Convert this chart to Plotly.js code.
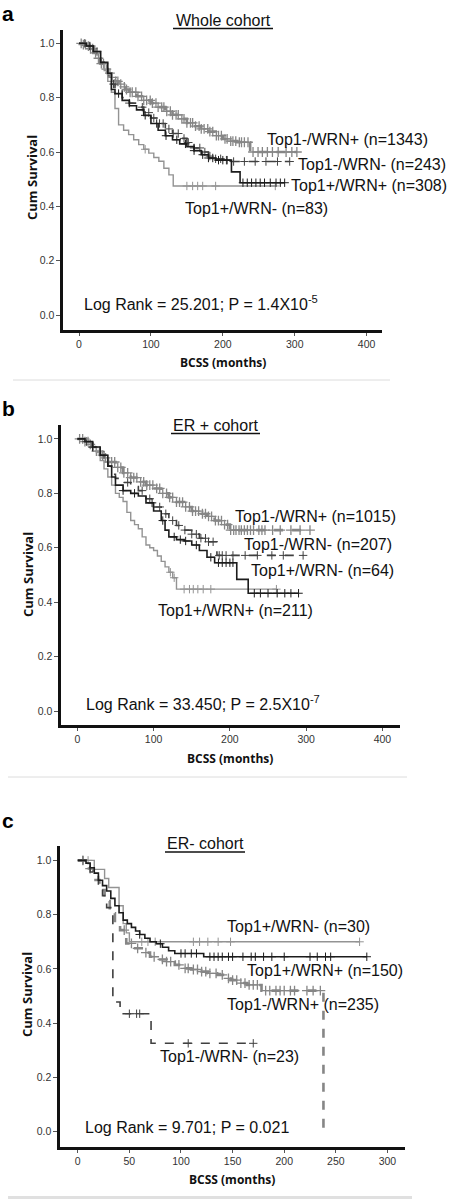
<!DOCTYPE html>
<html>
<head>
<meta charset="utf-8">
<script src="https://cdn.plot.ly/plotly-3.0.1.min.js"></script>
<style>html,body{margin:0;padding:0;background:#fff;}#chart{width:453px;height:1200px;}</style>
</head>
<body>
<div id="chart"></div>
<script>
// ---------- tick labels ----------
const survTickVals = [0, 0.2, 0.4, 0.6, 0.8, 1.0];
const survTickText = ['0.0', '0.2', '0.4', '0.6', '0.8', '1.0'];
const monthTicksAB = [0, 100, 200, 300, 400];
const monthTicksC = [0, 50, 100, 150, 200, 250, 300];

const panelTitles = ['Whole cohort', 'ER + cohort', 'ER- cohort'];
const panelLetters = ['a', 'b', 'c'];
const xTitle = 'BCSS (months)';
const yTitle = 'Cum Survival';
const logRankTexts = [
  'Log Rank = 25.201; P = 1.4X10<sup>-5</sup>',
  'Log Rank = 33.450; P = 2.5X10<sup>-7</sup>',
  'Log Rank = 9.701; P = 0.021'
];

// ---------- Panel a: whole cohort ----------
const aNegPosT = [0,5,10,15,20,25,30,35,40,45,50,55,60,65,70,80,90,100,110,120,130,140,150,160,170,180,190,200,210,220,238,303];
const aNegPosS = [1.0,0.995,0.99,0.98,0.965,0.945,0.925,0.905,0.89,0.875,0.86,0.85,0.84,0.83,0.82,0.805,0.79,0.78,0.765,0.75,0.737,0.722,0.707,0.695,0.685,0.675,0.66,0.648,0.64,0.636,0.60,0.60];
const aNegPosC = [3,6,9,13,16,19,23,27,31,34,38,43,46,51,54,58,63,66,71,74,79,82,87,90,94,99,102,107,110,115,118,122,127,130,135,138,143,146,150,155,158,162,167,170,174,179,182,186,191,194,198,203,206,211,214,218,223,226,230,235,242,249,255,262,269,277,288,296,303];
const aNegNegT = [0,10,20,30,40,45,50,60,70,80,90,100,110,120,130,140,150,160,170,180,190,200,212,293];
const aNegNegS = [1.0,0.99,0.97,0.93,0.88,0.85,0.83,0.80,0.78,0.765,0.745,0.725,0.705,0.685,0.668,0.65,0.635,0.615,0.60,0.585,0.575,0.57,0.565,0.565];
const aNegNegC = [8,25,48,70,88,97,104,112,117,125,131,138,146,152,160,168,175,182,190,197,205,215,230,245,260,276,293];
const aPosPosT = [0,10,20,30,40,45,50,60,70,80,90,100,110,120,130,140,150,160,170,180,190,212,224,286];
const aPosPosS = [1.0,0.99,0.97,0.93,0.89,0.83,0.815,0.79,0.77,0.755,0.735,0.705,0.68,0.66,0.645,0.63,0.62,0.605,0.59,0.578,0.57,0.527,0.487,0.487];
const aPosPosC = [15,55,92,108,121,136,148,160,172,180,186,194,200,206,228,234,240,246,252,258,266,274,280,286];
const aPosNegT = [0,15,22,30,35,40,45,50,55,62,69,76,83,90,97,104,111,118,125,131,273];
const aPosNegS = [1.0,0.99,0.97,0.93,0.9,0.86,0.82,0.76,0.70,0.68,0.664,0.645,0.627,0.61,0.596,0.58,0.566,0.54,0.516,0.475,0.475];
const aPosNegC = [92,150,158,165,172,190,273];
const aLabels = ['Top1-/WRN+ (n=1343)', 'Top1-/WRN- (n=243)', 'Top1+/WRN+ (n=308)', 'Top1+/WRN- (n=83)'];

// ---------- Panel b: ER+ cohort ----------
const bNegPosT = [0,10,15,20,25,30,35,40,50,60,70,80,90,100,110,120,130,140,150,160,170,180,190,200,305];
const bNegPosS = [1.0,0.99,0.98,0.97,0.955,0.94,0.93,0.915,0.895,0.875,0.858,0.842,0.83,0.818,0.80,0.785,0.768,0.75,0.735,0.725,0.715,0.70,0.685,0.665,0.665];
const bNegPosC = [3,7,10,14,17,21,25,29,33,37,41,45,49,53,57,61,66,70,74,78,83,87,91,95,99,104,108,112,117,121,125,130,134,138,142,147,151,155,159,164,168,172,176,181,185,189,193,197,201,205,208,212,215,219,223,227,231,238,242,246,256,266,280,292,305];
const bNegNegT = [0,10,20,30,40,45,50,60,70,80,90,100,110,120,130,140,150,160,170,183,296];
const bNegNegS = [1.0,0.99,0.97,0.94,0.90,0.87,0.855,0.84,0.825,0.81,0.78,0.75,0.725,0.70,0.682,0.665,0.65,0.635,0.622,0.572,0.572];
const bNegNegC = [12,35,66,85,95,108,116,125,133,141,150,156,162,168,172,178,186,190,195,204,220,236,255,270,296];
const bPosPosT = [0,10,20,30,40,45,50,60,70,80,90,100,110,115,120,130,140,150,160,170,180,209,224,290];
const bPosPosS = [1.0,0.99,0.97,0.94,0.90,0.86,0.83,0.81,0.80,0.79,0.765,0.735,0.70,0.665,0.64,0.63,0.625,0.61,0.59,0.565,0.545,0.484,0.433,0.433];
const bPosPosC = [20,60,75,98,112,127,135,142,156,175,185,190,195,200,204,232,240,250,262,272,280,290];
const bPosNegT = [0,15,20,25,30,35,40,45,50,55,60,65,70,75,80,85,90,95,100,105,110,115,120,125,130,261];
const bPosNegS = [1.0,0.99,0.97,0.95,0.92,0.89,0.86,0.83,0.80,0.785,0.77,0.73,0.70,0.685,0.67,0.64,0.61,0.60,0.59,0.57,0.55,0.53,0.51,0.49,0.448,0.448];
const bPosNegC = [122,127,140,147,152,158,165,175,261];
const bLabels = ['Top1-/WRN+ (n=1015)', 'Top1-/WRN- (n=207)', 'Top1+/WRN- (n=64)', 'Top1+/WRN+ (n=211)'];

// ---------- Panel c: ER- cohort ----------
const cPosNegT = [0,16,26,30,40,44,47,50,273];
const cPosNegS = [1,0.967,0.933,0.9,0.833,0.767,0.733,0.70,0.70];
const cPosNegC = [5,10,62,68,75,112,118,126,136,148,273];
const cPosPosT = [0,8,12,16,20,24,28,32,36,40,44,48,52,56,60,65,70,76,82,88,94,122,280];
const cPosPosS = [1,0.99,0.973,0.953,0.927,0.907,0.887,0.86,0.833,0.807,0.78,0.767,0.753,0.74,0.727,0.713,0.70,0.693,0.68,0.667,0.657,0.645,0.645];
const cPosPosC = [60,80,100,104,110,115,128,132,136,140,146,150,160,168,172,180,188,200,225,232,240,245,280];
const cNegPosT = [0,8,15,21,26,31,36,41,47,54,62,70,78,86,94,102,110,118,126,135,142,148,155,164,178,238];
const cNegPosS = [1,0.97,0.928,0.891,0.85,0.805,0.77,0.743,0.694,0.676,0.66,0.645,0.635,0.627,0.615,0.602,0.598,0.59,0.584,0.578,0.565,0.559,0.548,0.541,0.52,0];
const cNegPosC = [5,12,45,52,58,66,74,82,86,90,98,104,107,112,116,120,124,128,134,140,146,150,154,158,162,166,170,174,182,186,192,196,200,206,210,222,228,235];
const cNegNegT = [0,12,20,24,28,34,41,71,170];
const cNegNegS = [1,0.957,0.913,0.87,0.826,0.478,0.435,0.326,0.326];
const cNegNegC = [5,50,57,60,107,170];
const cLabels = ['Top1+/WRN- (n=30)', 'Top1+/WRN+ (n=150)', 'Top1-/WRN+ (n=235)', 'Top1-/WRN- (n=23)'];

// ---------- styles (kept apart from data) ----------
const STYLE = {
  negPos: {color: '#868686', dash: 'dash', width: 2.6, msize: 7, mwidth: 1.3},
  negNeg: {color: '#404040', dash: 'dash', width: 1.6, msize: 6, mwidth: 1},
  posPos: {color: '#1c1c1c', dash: 'solid', width: 1.6, msize: 6, mwidth: 1},
  posNeg: {color: '#939393', dash: 'solid', width: 1.4, msize: 6, mwidth: 1}
};

const W = 453, H = 1200;
const PX = x => x / W;
const PY = y => 1 - y / H;

function stepAt(times, surv, t) {
  let v = surv[0];
  for (let i = 0; i < times.length; i++) if (times[i] <= t) v = surv[i];
  return v;
}

function km(times, surv, cens, style, xa, ya) {
  return [
    {type: 'scatter', mode: 'lines', x: times, y: surv, xaxis: xa, yaxis: ya,
     line: {shape: 'hv', color: style.color, dash: style.dash, width: style.width},
     hoverinfo: 'skip', showlegend: false},
    {type: 'scatter', mode: 'markers', x: cens, y: cens.map(t => stepAt(times, surv, t)),
     xaxis: xa, yaxis: ya,
     marker: {symbol: 'cross-thin-open', size: style.msize, color: style.color,
              line: {color: style.color, width: style.mwidth}},
     hoverinfo: 'skip', showlegend: false}
  ];
}

const traces = [].concat(
  km(aNegPosT, aNegPosS, aNegPosC, STYLE.negPos, 'x', 'y'),
  km(aNegNegT, aNegNegS, aNegNegC, STYLE.negNeg, 'x', 'y'),
  km(aPosNegT, aPosNegS, aPosNegC, STYLE.posNeg, 'x', 'y'),
  km(aPosPosT, aPosPosS, aPosPosC, STYLE.posPos, 'x', 'y'),
  km(bNegPosT, bNegPosS, bNegPosC, STYLE.negPos, 'x2', 'y2'),
  km(bNegNegT, bNegNegS, bNegNegC, STYLE.negNeg, 'x2', 'y2'),
  km(bPosNegT, bPosNegS, bPosNegC, STYLE.posNeg, 'x2', 'y2'),
  km(bPosPosT, bPosPosS, bPosPosC, STYLE.posPos, 'x2', 'y2'),
  km(cNegPosT, cNegPosS, cNegPosC, STYLE.negPos, 'x3', 'y3'),
  km(cNegNegT, cNegNegS, cNegNegC, STYLE.negNeg, 'x3', 'y3'),
  km(cPosNegT, cPosNegS, cPosNegC, STYLE.posNeg, 'x3', 'y3'),
  km(cPosPosT, cPosPosS, cPosPosC, STYLE.posPos, 'x3', 'y3')
);

const TICKFONT = {family: 'Liberation Sans, Arial, sans-serif', size: 10.5, color: '#333'};
function xAxis(dom, range, ticks, anchor) {
  return {
    domain: dom, range: range, anchor: anchor,
    tickvals: ticks, ticktext: ticks.map(String),
    showline: true, linewidth: 2.6, linecolor: '#111',
    ticks: 'outside', ticklen: 3, tickwidth: 1, tickcolor: '#555',
    tickfont: TICKFONT, showgrid: false, zeroline: false, fixedrange: true
  };
}
function yAxis(dom, range, anchor) {
  return {
    domain: dom, range: range, anchor: anchor,
    tickvals: survTickVals, ticktext: survTickText,
    showline: true, linewidth: 2.6, linecolor: '#111',
    ticks: 'outside', ticklen: 4, tickwidth: 1, tickcolor: '#555',
    tickfont: TICKFONT, showgrid: false, zeroline: false, fixedrange: true
  };
}

const LBL = {family: 'Liberation Sans, Arial, sans-serif', size: 16, color: '#111'};
function note(text, x, y, xanchor, extra) {
  return Object.assign({text: text, xref: 'paper', yref: 'paper', x: PX(x), y: PY(y),
    xanchor: xanchor, yanchor: 'middle', showarrow: false, font: LBL}, extra || {});
}
const BOLDX = {family: 'Open Sans, sans-serif', size: 12, color: '#111'};
const BOLDY = {family: 'Open Sans, sans-serif', size: 13, color: '#111'};
const LETTER = {family: 'Liberation Sans, Arial, sans-serif', size: 21, color: '#000'};

const annotations = [
  // panel letters
  note('<b>' + panelLetters[0] + '</b>', 0, 0, 'left', {font: LETTER, yanchor: 'top'}),
  note('<b>' + panelLetters[1] + '</b>', 0, 408, 'left', {font: LETTER}),
  note('<b>' + panelLetters[2] + '</b>', 0, 820, 'left', {font: LETTER}),
  // titles
  note(panelTitles[0], 223, 20, 'center'),
  note(panelTitles[1], 215.5, 425, 'center'),
  note(panelTitles[2], 205, 843.5, 'center'),
  // panel a labels
  note(aLabels[0], 265, 139, 'left'),
  note(aLabels[1], 296, 164, 'left'),
  note(aLabels[2], 289, 185.5, 'left'),
  note(aLabels[3], 182.5, 208, 'left'),
  note(logRankTexts[0], 81.5, 303, 'left'),
  // panel b labels
  note(bLabels[0], 233, 516.5, 'left'),
  note(bLabels[1], 241.5, 545, 'left'),
  note(bLabels[2], 249, 570, 'left'),
  note(bLabels[3], 156, 610.5, 'left'),
  note(logRankTexts[1], 84, 703, 'left'),
  // panel c labels
  note(cLabels[0], 225, 926.5, 'left'),
  note(cLabels[1], 245, 970, 'left'),
  note(cLabels[2], 225, 1004, 'left'),
  note(cLabels[3], 157.5, 1056.5, 'left'),
  note(logRankTexts[2], 82.5, 1127.5, 'left'),
  // axis titles
  note('<b>' + xTitle + '</b>', 223, 362, 'center', {font: BOLDX}),
  note('<b>' + xTitle + '</b>', 230, 758, 'center', {font: BOLDX}),
  note('<b>' + xTitle + '</b>', 232, 1179, 'center', {font: BOLDX}),
  note('<b>' + yTitle + '</b>', 32, 178, 'center', {font: BOLDY, textangle: -90}),
  note('<b>' + yTitle + '</b>', 28, 575, 'center', {font: BOLDY, textangle: -90}),
  note('<b>' + yTitle + '</b>', 27, 995, 'center', {font: BOLDY, textangle: -90})
];

function hline(x0, x1, y, color, width) {
  return {type: 'line', xref: 'paper', yref: 'paper', x0: PX(x0), x1: PX(x1), y0: PY(y), y1: PY(y),
    line: {color: color, width: width}};
}
const shapes = [
  // title underlines
  hline(173, 273, 28.5, '#111', 1.3),
  hline(171, 260, 433.5, '#111', 1.3),
  hline(165, 245, 852, '#111', 1.3),
  // separators
  hline(13, 390, 380, '#dcdcdc', 1),
  hline(8, 407, 777, '#dcdcdc', 1),
  hline(8, 412, 1197.5, '#e0e0e0', 3)
];

const layout = {
  width: W, height: H,
  margin: {l: 0, r: 0, t: 0, b: 0},
  paper_bgcolor: '#fff', plot_bgcolor: '#fff',
  showlegend: false,
  font: {family: 'Liberation Sans, Arial, sans-serif'},
  xaxis:  xAxis([PX(63), PX(382)], [-22.3, 421.4], monthTicksAB, 'y'),
  yaxis:  yAxis([PY(330), PY(30)], [-0.055, 1.049], 'x'),
  xaxis2: xAxis([PX(61), PX(400)], [-21.4, 423], monthTicksAB, 'y2'),
  yaxis2: yAxis([PY(725), PY(425)], [-0.051, 1.051], 'x2'),
  xaxis3: xAxis([PX(60), PX(405)], [-17.2, 317], monthTicksC, 'y3'),
  yaxis3: yAxis([PY(1147), PY(846)], [-0.056, 1.053], 'x3'),
  annotations: annotations,
  shapes: shapes
};

Plotly.newPlot('chart', traces, layout, {staticPlot: true, displayModeBar: false});
</script>
</body>
</html>
